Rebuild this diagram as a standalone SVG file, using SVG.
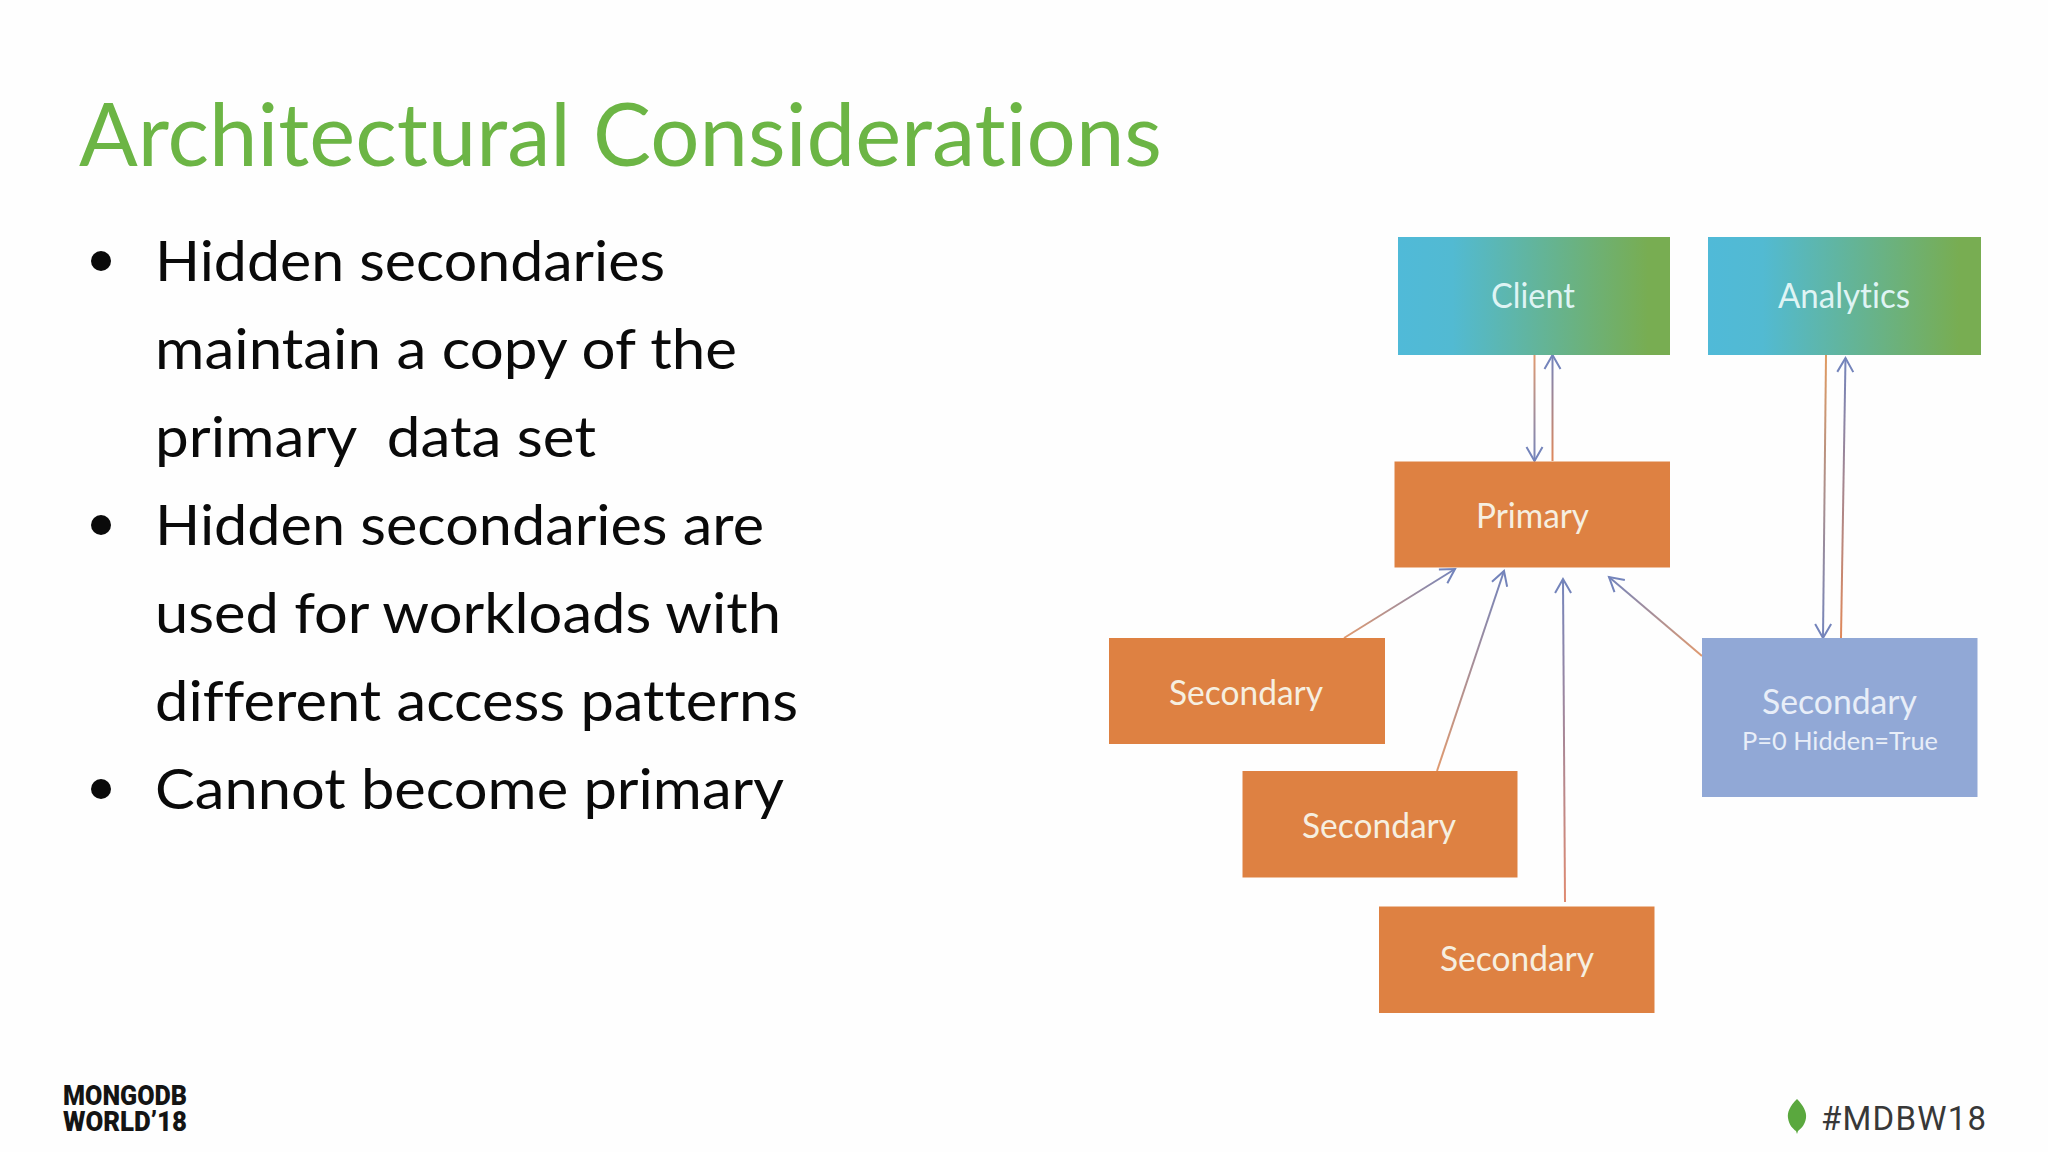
<svg xmlns="http://www.w3.org/2000/svg" width="2048" height="1152" viewBox="0 0 2048 1152">
<style>
text{font-family:Lato,"Open Sans","Liberation Sans",sans-serif;white-space:pre;font-variant-ligatures:none}
.title{font-size:87px;fill:#6cb545}
.body{font-size:57px;fill:#0a0a0a}
.lbl{font-size:35px;fill:#f6efe0}
.lblb{font-size:35px;fill:#e8eef8}
.sub{font-size:25px;fill:#e8eef8}
.brand{font-family:Roboto,"Liberation Sans",sans-serif;font-weight:900;font-size:27px;fill:#141414}
.tag{font-family:Roboto,"Liberation Sans",sans-serif;font-weight:400;font-size:33px;fill:#383838}
.orange{fill:#de8142}
.blue{fill:#91a8d6}
.grad{fill:url(#nodeGrad)}
.c{fill:none;stroke-width:2;marker-end:url(#arr)}
</style>
<defs>
<linearGradient id="nodeGrad" x1="0" y1="0" x2="1" y2="0">
<stop offset="0" stop-color="#50bad8"/><stop offset="0.2" stop-color="#52bad2"/><stop offset="0.92" stop-color="#78ad52"/><stop offset="1" stop-color="#78ad52"/>
</linearGradient>
<marker id="arr" markerUnits="userSpaceOnUse" markerWidth="24" markerHeight="24" refX="17" refY="10" orient="auto">
<path d="M3 2 L17 10 L3 18" fill="none" stroke="#7484bb" stroke-width="2"/>
</marker>
<linearGradient id="g1" gradientUnits="userSpaceOnUse" x1="1534" y1="355" x2="1534" y2="461"><stop offset="0" stop-color="#e09a70"/><stop offset="1" stop-color="#7484bb"/></linearGradient>
<linearGradient id="g2" gradientUnits="userSpaceOnUse" x1="1552" y1="461" x2="1552" y2="355"><stop offset="0" stop-color="#e0885a"/><stop offset="1" stop-color="#7484bb"/></linearGradient>
<linearGradient id="g3" gradientUnits="userSpaceOnUse" x1="1826" y1="355" x2="1823" y2="638"><stop offset="0" stop-color="#e09a60"/><stop offset="1" stop-color="#7484bb"/></linearGradient>
<linearGradient id="g4" gradientUnits="userSpaceOnUse" x1="1841" y1="638" x2="1846" y2="358"><stop offset="0" stop-color="#e0885a"/><stop offset="1" stop-color="#7484bb"/></linearGradient>
<linearGradient id="g5" gradientUnits="userSpaceOnUse" x1="1344" y1="638" x2="1455" y2="569"><stop offset="0" stop-color="#e09a70"/><stop offset="1" stop-color="#7484bb"/></linearGradient>
<linearGradient id="g6" gradientUnits="userSpaceOnUse" x1="1437" y1="771" x2="1504" y2="571"><stop offset="0" stop-color="#e09a70"/><stop offset="1" stop-color="#7484bb"/></linearGradient>
<linearGradient id="g7" gradientUnits="userSpaceOnUse" x1="1565" y1="904" x2="1563" y2="579"><stop offset="0" stop-color="#e08a70"/><stop offset="1" stop-color="#7484bb"/></linearGradient>
<linearGradient id="g8" gradientUnits="userSpaceOnUse" x1="1702" y1="656" x2="1609" y2="577"><stop offset="0" stop-color="#e09a70"/><stop offset="1" stop-color="#7484bb"/></linearGradient>
</defs>
<rect width="2048" height="1152" fill="#fefefe"/>
<text class="title" x="79" y="165.500" textLength="1083" lengthAdjust="spacingAndGlyphs">Architectural Considerations</text>
<g id="bullets">
<circle cx="101" cy="261" r="10" fill="#0a0a0a"/>
<circle cx="101" cy="525" r="10" fill="#0a0a0a"/>
<circle cx="101" cy="789" r="10" fill="#0a0a0a"/>
<text class="body" x="155" y="281" textLength="510" lengthAdjust="spacingAndGlyphs">Hidden secondaries</text>
<text class="body" x="155" y="369" textLength="582" lengthAdjust="spacingAndGlyphs">maintain a copy of the</text>
<text class="body" x="155" y="457" textLength="441" lengthAdjust="spacingAndGlyphs">primary  data set</text>
<text class="body" x="155" y="545" textLength="609" lengthAdjust="spacingAndGlyphs">Hidden secondaries are</text>
<text class="body" x="155" y="633" textLength="626" lengthAdjust="spacingAndGlyphs">used for workloads with</text>
<text class="body" x="155" y="721" textLength="643" lengthAdjust="spacingAndGlyphs">different access patterns</text>
<text class="body" x="155" y="809" textLength="629" lengthAdjust="spacingAndGlyphs">Cannot become primary</text>
</g>
<g id="connectors">
<line class="c" stroke="url(#g1)" x1="1534.5" y1="355" x2="1534.5" y2="461"/>
<line class="c" stroke="url(#g2)" x1="1552.5" y1="461" x2="1552.5" y2="355"/>
<line class="c" stroke="url(#g3)" x1="1826" y1="355" x2="1823" y2="638"/>
<line class="c" stroke="url(#g4)" x1="1841" y1="638" x2="1845.5" y2="358"/>
<line class="c" stroke="url(#g5)" x1="1344" y1="638" x2="1455" y2="569"/>
<line class="c" stroke="url(#g6)" x1="1437" y1="771" x2="1504" y2="571"/>
<line class="c" stroke="url(#g7)" x1="1565" y1="902" x2="1563" y2="579"/>
<line class="c" stroke="url(#g8)" x1="1702" y1="656" x2="1609" y2="577"/>
</g>
<g id="client"><rect class="grad" x="1398" y="237" width="272" height="118"/><text class="lbl" style="fill:#dff4f4" x="1491" y="308" textLength="84" lengthAdjust="spacingAndGlyphs">Client</text></g>
<g id="analytics"><rect class="grad" x="1708" y="237" width="273" height="118"/><text class="lbl" style="fill:#dff4f4" x="1778" y="308" textLength="132" lengthAdjust="spacingAndGlyphs">Analytics</text></g>
<g id="primary"><rect class="orange" x="1394.500" y="461.500" width="275.500" height="106"/><text class="lbl" x="1476" y="528" textLength="113" lengthAdjust="spacingAndGlyphs">Primary</text></g>
<g id="secondary1"><rect class="orange" x="1109" y="638" width="276" height="106"/><text class="lbl" x="1169" y="705" textLength="154" lengthAdjust="spacingAndGlyphs">Secondary</text></g>
<g id="secondary2"><rect class="orange" x="1242.500" y="771" width="275" height="106.500"/><text class="lbl" x="1302" y="838" textLength="154" lengthAdjust="spacingAndGlyphs">Secondary</text></g>
<g id="secondary3"><rect class="orange" x="1379" y="906.500" width="275.500" height="106.500"/><text class="lbl" x="1440" y="971" textLength="154" lengthAdjust="spacingAndGlyphs">Secondary</text></g>
<g id="hidden-secondary"><rect class="blue" x="1702" y="638" width="275.500" height="159"/><text class="lblb" x="1762" y="714" textLength="155" lengthAdjust="spacingAndGlyphs">Secondary</text><text class="sub" x="1742" y="750" textLength="196" lengthAdjust="spacingAndGlyphs">P=0 Hidden=True</text></g>
<g id="logo"><text class="brand" x="63" y="1105" textLength="124" lengthAdjust="spacingAndGlyphs">MONGODB</text><text class="brand" x="63" y="1131" textLength="124" lengthAdjust="spacingAndGlyphs">WORLD’18</text></g>
<g id="tag"><path d="M1797 1099 C1790 1106 1787 1112 1788 1118 C1789 1125 1793 1129 1796 1131 L1797 1134 L1798 1131 C1802 1128 1805 1124 1806 1118 C1807 1112 1803 1105 1797 1099Z" fill="#5aa83e"/><text class="tag" x="1821" y="1130" textLength="165" lengthAdjust="spacing">#MDBW18</text></g>
</svg>
